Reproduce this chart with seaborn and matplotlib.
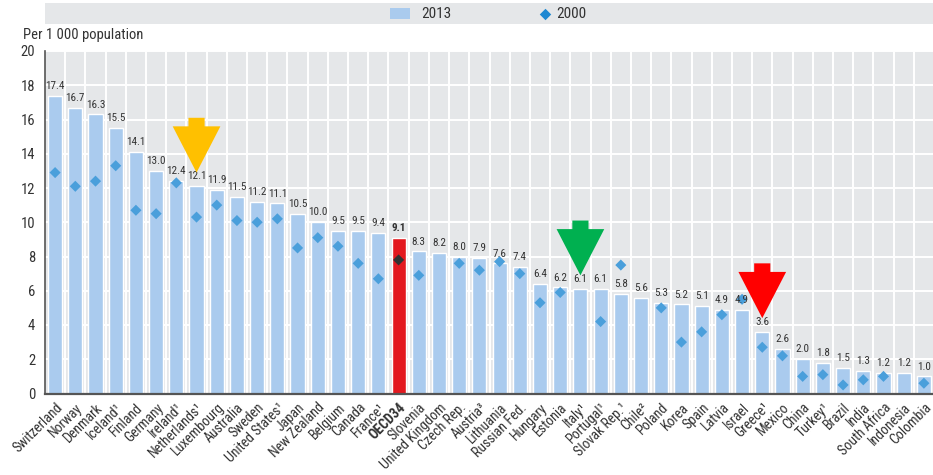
import numpy as np
import pandas as pd
import matplotlib
matplotlib.use("Agg")
import matplotlib.pyplot as plt
from matplotlib.patches import Rectangle, Polygon
import seaborn as sns

# Hospital beds per 1 000 population
countries = [
    "Switzerland", "Norway", "Denmark", "Iceland¹", "Finland", "Germany",
    "Ireland¹", "Netherlands¹", "Luxembourg", "Australia", "Sweden",
    "United States¹", "Japan", "New Zealand", "Belgium", "Canada", "France¹",
    "OECD34", "Slovenia", "United Kingdom", "Czech Rep.", "Austria³",
    "Lithuania", "Russian Fed.", "Hungary", "Estonia", "Italy¹", "Portugal¹",
    "Slovak Rep.¹", "Chile²", "Poland", "Korea", "Spain", "Latvia", "Israel",
    "Greece¹", "Mexico", "China", "Turkey¹", "Brazil", "India",
    "South Africa", "Indonesia", "Colombia",
]
beds_2013 = [
    17.4, 16.7, 16.3, 15.5, 14.1, 13.0, 12.4, 12.1, 11.9, 11.5, 11.2, 11.1,
    10.5, 10.0, 9.5, 9.5, 9.4, 9.1, 8.3, 8.2, 8.0, 7.9, 7.6, 7.4, 6.4, 6.2,
    6.1, 6.1, 5.8, 5.6, 5.3, 5.2, 5.1, 4.9, 4.9, 3.6, 2.6, 2.0, 1.8, 1.5,
    1.3, 1.2, 1.2, 1.0,
]
beds_2000 = [
    12.9, 12.1, 12.4, 13.3, 10.7, 10.5, 12.3, 10.3, 11.0, 10.1, 10.0, 10.2,
    8.5, 9.1, 8.6, 7.6, 6.7, 7.8, 6.9, np.nan, 7.6, 7.2, 7.7, 7.0, 5.3, 5.9,
    np.nan, 4.2, 7.5, np.nan, 5.0, 3.0, 3.6, 4.6, 5.5, 2.7, 2.2, 1.0, 1.1,
    0.5, 0.8, 1.0, np.nan, 0.6,
]
highlight = "OECD34"
arrow_countries = ["Netherlands¹", "Italy¹", "Greece¹"]
arrow_colors = ["#FFC000", "#00B050", "#FF0000"]
y_ticks = [0, 2, 4, 6, 8, 10, 12, 14, 16, 18, 20]
y_title = "Per 1 000 population"
legend_labels = ["2013", "2000"]

BG = "#E5E7E9"
BAR = "#AACBEE"
BAR_HI = "#E3191F"
DOT = "#4A9FDB"
DOT_HI = "#333333"
TXT = "#333333"
AXIS = "#555555"

sns.set_style("white")
plt.rcParams["font.family"] = ["Roboto Condensed", "DejaVu Sans"]

df = pd.DataFrame({"country": countries, "v2013": beds_2013, "v2000": beds_2000})
df["pos"] = np.arange(len(df))
n = len(df)

W, H = 933, 475
fig = plt.figure(figsize=(W / 100, H / 100), dpi=100)
ax = fig.add_axes([45 / W, 81.5 / H, 889 / W, (393.5 - 51) / H])
ax.set_facecolor(BG)
ax.set_axisbelow(True)

bar_colors = [BAR_HI if c == highlight else BAR for c in countries]
sns.barplot(data=df, x="country", y="v2013", hue="country", palette=bar_colors,
            width=0.7, saturation=1, legend=False, ax=ax, zorder=2)

dot_colors = [DOT_HI if c == highlight else DOT for c in countries]
ax.scatter(df["pos"], df["v2000"], marker="D", s=32, c=dot_colors,
           linewidths=0, zorder=4)

# value labels above the 2013 bars
for p, v, c in zip(df["pos"], df["v2013"], df["country"]):
    ax.text(p, v + 0.28, f"{v:.1f}", ha="center", va="bottom", fontsize=8,
            color=TXT, fontweight="bold" if c == highlight else "normal",
            zorder=5)

# block arrows pointing at selected countries
for name, col in zip(arrow_countries, arrow_colors):
    row = df[df["country"] == name].iloc[0]
    x0, tip = row["pos"], row["v2013"] + 0.8
    hw, sw, hl, sl = 1.18, 0.4, 2.7, 0.5
    pts = [(x0, tip), (x0 - hw, tip + hl), (x0 - sw, tip + hl),
           (x0 - sw, tip + hl + sl), (x0 + sw, tip + hl + sl),
           (x0 + sw, tip + hl), (x0 + hw, tip + hl)]
    ax.add_patch(Polygon(pts, closed=True, facecolor=col, edgecolor="none",
                         zorder=6))

ax.set_xlim(-0.5, n - 0.5)
ax.set_ylim(0, 20)
ax.set_yticks(y_ticks)
ax.set_xlabel("")
ax.set_ylabel("")
ax.set_xticks(df["pos"])
ax.set_xticklabels(countries, rotation=45, ha="right", rotation_mode="anchor",
                   fontsize=10, color=TXT)
for lab in ax.get_xticklabels():
    if lab.get_text() == highlight:
        lab.set_fontweight("bold")
ax.set_xticks(np.arange(0.5, n - 0.5, 1), minor=True)
ax.tick_params(axis="x", which="major", length=0, pad=5)
ax.tick_params(axis="x", which="minor", length=3.5, width=1, color=AXIS,
               direction="out")
ax.tick_params(axis="y", which="major", length=4, width=1, color=AXIS,
               direction="in", labelsize=10.5, labelcolor=TXT, pad=7)

ax.grid(axis="y", which="major", color="white", linewidth=1.4)
ax.grid(axis="x", which="minor", color="white", linewidth=1.4)
ax.grid(axis="x", which="major", visible=False)

for side in ["top", "right"]:
    ax.spines[side].set_visible(False)
ax.spines["left"].set_color(AXIS)
ax.spines["left"].set_linewidth(1.2)
ax.spines["bottom"].set_color(AXIS)
ax.spines["bottom"].set_linewidth(1.6)

fig.text(23 / W, 1 - 28 / H, y_title, ha="left", va="top", fontsize=10.5,
         color=TXT)

# legend band
lax = fig.add_axes([45 / W, 1 - 24 / H, 888 / W, 21 / H])
lax.set_facecolor(BG)
lax.set_xlim(0, 888)
lax.set_ylim(0, 21)
lax.set_xticks([])
lax.set_yticks([])
for s in lax.spines.values():
    s.set_visible(False)
lax.add_patch(Rectangle((345, 5), 20, 11.5, facecolor=BAR, edgecolor="none"))
lax.text(376, 10.5, legend_labels[0], ha="left", va="center", fontsize=11,
         color=TXT)
lax.scatter([500], [10.5], marker="D", s=34, c="#1E88D2", linewidths=0)
lax.text(511, 10.5, legend_labels[1], ha="left", va="center", fontsize=11,
         color=TXT)

fig.savefig("out.png", dpi=100, facecolor="white")
